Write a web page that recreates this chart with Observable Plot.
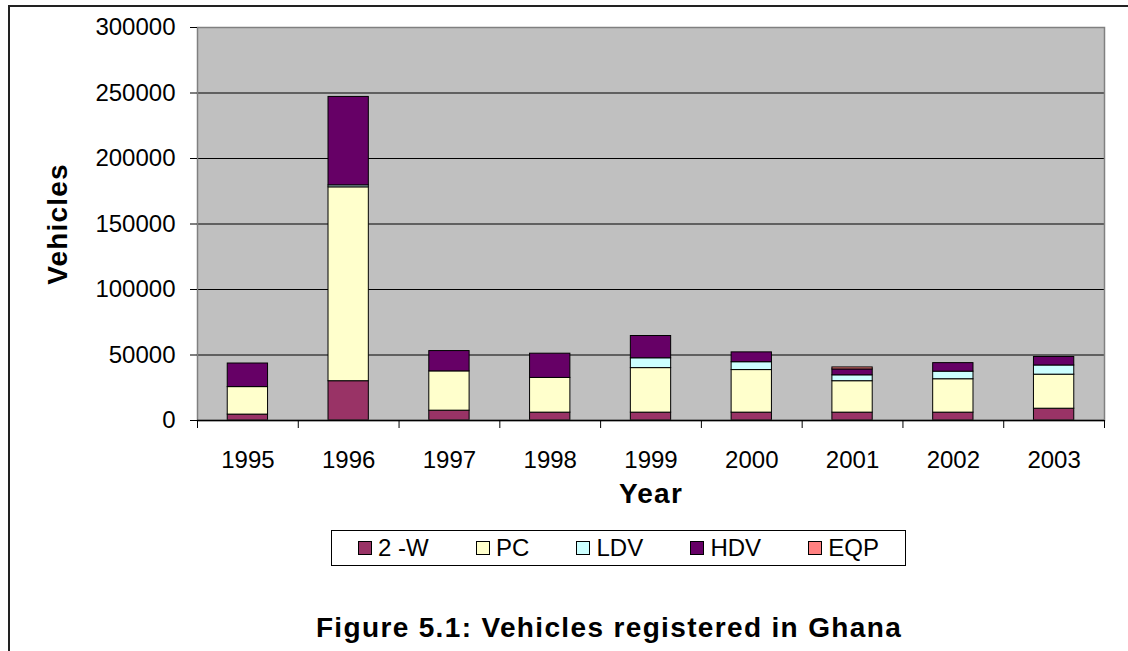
<!DOCTYPE html>
<html>
<head>
<meta charset="utf-8">
<script src="https://cdn.jsdelivr.net/npm/d3@7"></script>
<script src="https://cdn.jsdelivr.net/npm/@observablehq/plot@0.6"></script>
<style>
  html, body { margin: 0; padding: 0; background: #fff; overflow: hidden; }
  body { width: 1128px; height: 651px; position: relative; font-family: "Liberation Sans", Arial, sans-serif; }
  #page-border { position: absolute; left: 8px; top: 5px; width: 1140px; height: 700px; border: 2px solid #222; box-sizing: border-box; }
  #chart { position: absolute; left: 0; top: 0; }
  #chart svg g[aria-label="x-axis label"] text,
  #chart svg g[aria-label="y-axis label"] text { font-weight: bold; font-size: 28px; letter-spacing: 1.2px; }
  #legend { position: absolute; left: 331px; top: 530px; width: 575px; height: 36px; border: 1px solid #000; box-sizing: border-box;
            display: flex; align-items: center; justify-content: space-between; padding: 0 26px; font-size: 24px; }
  #legend .item { display: flex; align-items: center; }
  #legend .sw { width: 12px; height: 12px; border: 1px solid #000; margin-right: 6px; }
  #title { position: absolute; left: 0; width: 1218px; top: 612px; text-align: center; font-weight: bold; font-size: 28px; letter-spacing: 1.35px; }
</style>
</head>
<body>
<div id="page-border"></div>
<div id="chart"></div>
<div id="legend"></div>
<div id="title">Figure 5.1: Vehicles registered in Ghana</div>
<script>
// ---- data ----
const years = ["1995", "1996", "1997", "1998", "1999", "2000", "2001", "2002", "2003"];
const types = ["2 -W", "PC", "LDV", "HDV", "EQP"];
const colors = ["#993366", "#FFFFCC", "#CCFFFF", "#660066", "#FF8080"];
const twoW = [4500, 30000, 7500, 6000, 6000, 6000, 6000, 6000, 9000];
const pc   = [21000, 148000, 30000, 26500, 34000, 32500, 24000, 25500, 26000];
const ldv  = [0, 1500, 0, 0, 7500, 6000, 4500, 5800, 7000];
const hdv  = [18000, 67500, 15500, 18500, 17000, 7500, 4500, 6500, 6500];
const eqp  = [0, 0, 0, 0, 0, 0, 1500, 0, 0];
const yTicks = [0, 50000, 100000, 150000, 200000, 250000, 300000];

const series = [twoW, pc, ldv, hdv, eqp];
const rows = [];
years.forEach((yr, i) => {
  types.forEach((t, j) => {
    const v = series[j][i];
    if (v > 0) rows.push({ year: yr, type: t, value: v });
  });
});

const W = 1128, H = 515, mL = 197, mR = 24, mT = 27, mB = 95;
const step = (W - mL - mR) / years.length;

const chart = Plot.plot({
  width: W, height: H,
  marginLeft: mL, marginRight: mR, marginTop: mT, marginBottom: mB,
  style: { fontFamily: '"Liberation Sans", Arial, sans-serif', fontSize: "24px", color: "#000", background: "transparent", overflow: "visible" },
  x: { type: "band", domain: years, paddingInner: 0.6, paddingOuter: 0.3, round: false },
  y: { domain: [0, 300000] },
  color: { domain: types, range: colors },
  marks: [
    Plot.frame({ fill: "#C0C0C0" }),
    Plot.ruleY(yTicks.slice(1, -1), { stroke: "#000", strokeWidth: 1 }),
    Plot.barY(rows, { x: "year", y: "value", fill: "type", stroke: "#000", strokeWidth: 1, order: types }),
    Plot.frame({ stroke: "#808080", strokeWidth: 1.5 }),
    Plot.ruleY([0], { stroke: "#000", strokeWidth: 1.5 }),
    Plot.axisY({ ticks: yTicks, tickFormat: d3.format("d"), tickSize: 7, tickPadding: 15, fontSize: 24,
                 label: "Vehicles", labelAnchor: "center", labelArrow: "none", labelOffset: 150 }),
    Plot.axisX({ tickSize: 0, tickPadding: 30, fontSize: 24, label: "Year", labelAnchor: "center", labelArrow: "none", labelOffset: 82 }),
    Plot.axisX({ tickSize: 8, tickFormat: () => "", label: null, dx: -step / 2 }),
    Plot.axisX({ ticks: [years[years.length - 1]], tickSize: 8, tickFormat: () => "", label: null, dx: step / 2 })
  ]
});
document.getElementById("chart").appendChild(chart);

// legend
const legend = document.getElementById("legend");
types.forEach((t, j) => {
  const item = document.createElement("div");
  item.className = "item";
  const sw = document.createElement("span");
  sw.className = "sw";
  sw.style.background = colors[j];
  const lab = document.createElement("span");
  lab.textContent = t;
  item.appendChild(sw);
  item.appendChild(lab);
  legend.appendChild(item);
});
</script>
</body>
</html>
